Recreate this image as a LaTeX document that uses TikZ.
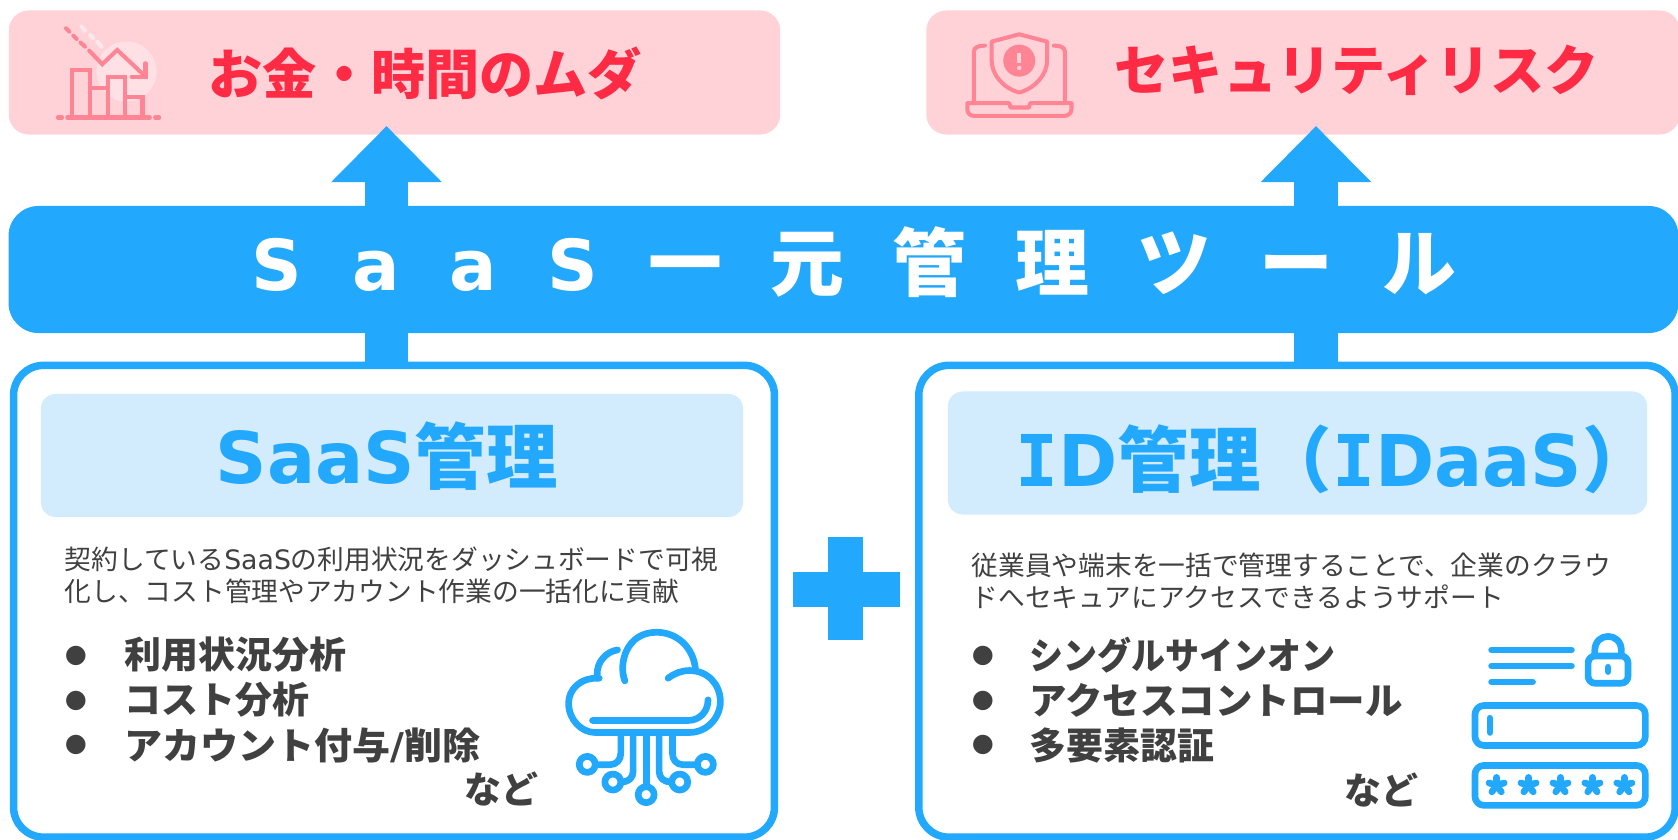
\documentclass[tikz,border=0pt]{standalone}
\usepackage{fontspec}
\usetikzlibrary{arrows.meta}
\newfontfamily\cjk{Noto Sans CJK JP}
\newfontfamily\lat{DejaVu Sans}
\newfontfamily\latmono{DejaVu Sans Mono}
\definecolor{saasblue}{HTML}{22A8FC}
\definecolor{paleblue}{HTML}{D3ECFD}
\definecolor{palepink}{HTML}{FFD2D8}
\definecolor{riskred}{HTML}{FF2B45}
\definecolor{iconpink}{HTML}{FF8494}
\definecolor{darktext}{HTML}{404040}
\begin{document}
\begin{tikzpicture}[x=0.01cm,y=-0.01cm]
    \tikzset{
      riskbox/.style={fill=palepink,rounded corners=0.2cm,minimum width=#1,minimum height=1.24cm,inner sep=0},
      risktext/.style={riskred,anchor=west,inner sep=0,font=\cjk\bfseries\fontsize{15.4}{18}\selectfont},
      mainbox/.style={draw=saasblue,fill=white,line width=0.075cm,rounded corners=0.3cm,minimum width=#1,minimum height=4.715cm,inner sep=0},
      headbox/.style={fill=paleblue,rounded corners=0.15cm,minimum width=#1,minimum height=1.23cm,inner sep=0},
      headtext/.style={saasblue,anchor=west,inner sep=0,font=\bfseries\fontsize{20.3}{24}\selectfont},
      bodytext/.style={darktext,anchor=west,align=left,inner sep=0,font=\fontsize{7.6}{9.1}\selectfont},
      itemtext/.style={darktext,anchor=west,inner sep=0,font=\cjk\bfseries\fontsize{10.5}{12}\selectfont},
      bulletmark/.style={darktext,inner sep=0,font=\lat\fontsize{7.2}{8}\selectfont},
      flow/.style={saasblue,line width=0.43cm,-{Triangle[width=1.07cm,length=0.56cm]}},
      iconline/.style={line width=1.9pt,line cap=round,line join=round,saasblue},
      pinkline/.style={line width=1.15pt,line cap=round,line join=miter,iconpink}
    }
    \useasboundingbox (0,0) rectangle (1678,840);

    %TOP BOXES
    \node[riskbox=7.71cm] (waste) at (394.5,72.5) {};
    \node[riskbox=7.53cm] (risk) at (1303,72.5) {};
    \node[risktext] (wastetext) at (208,73) {お金・時間のムダ};
    \node[risktext] (risktxt) at (1114,70) {セキュリティリスク};

    %LOWER BOXES
    \node[mainbox=7.605cm] (saasbox) at (394,601.25) {};
    \node[mainbox=7.56cm] (idbox) at (1297,601.25) {};
    \node[headbox=7.02cm] (saashead) at (392,455.5) {};
    \node[headbox=6.99cm] (idhead) at (1297.5,453) {};
    \node[headtext] (saastitle) at (215,456) {{\lat SaaS}{\cjk 管理}};
    \node[headtext] (idtitle) at (1015,459) {{\latmono I}{\lat D}{\cjk 管理（}{\latmono I}{\lat DaaS}{\cjk ）}};

    %ARROWS
    \coordinate (upleft) at (386.5,126);
    \coordinate (upright) at (1316,126);
    \draw[flow] (saasbox.north -| upleft) -- (upleft);
    \draw[flow] (idbox.north -| upright) -- (upright);

    %BAR
    \node[fill=saasblue,rounded corners=0.3cm,minimum width=16.69cm,minimum height=1.27cm,inner sep=0] (bar) at (843.5,269.5) {};
    \node[white,inner sep=0,font=\bfseries\fontsize{20}{24}\selectfont] (bartext) at (854,262)
      {\spaceskip=0.5cm {\lat S a a S} {\fontsize{21}{24}\selectfont\spaceskip=0.485cm\cjk 一 元 管 理 ツ ー ル}};

    %PLUS
    \fill[saasblue] (793,572) rectangle (900,607);
    \fill[saasblue] (828,537) rectangle (863,640);

    %TEXT LEFT
    \node[bodytext] (saasbody) at (64,575) {{\cjk 契約している}{\lat SaaS}{\cjk の利用状況をダッシュボードで可視}\\{\cjk 化し、コスト管理やアカウント作業の一括化に貢献}};
    \node[bulletmark] (b1) at (76,656) {●};
    \node[bulletmark] (b2) at (76,701) {●};
    \node[bulletmark] (b3) at (76,745) {●};
    \node[itemtext] (i1) at (124,655) {利用状況分析};
    \node[itemtext] (i2) at (124,700) {コスト分析};
    \node[itemtext] (i3) at (124,745) {\scalebox{1.03}[1]{アカウント付与{\lat /}削除}};
    \node[itemtext] (etc1) at (464,789) {など};

    %TEXT RIGHT
    \node[bodytext] (idbody) at (971,581) {{\cjk 従業員や端末を一括で管理することで、企業のクラウ}\\{\cjk ドへセキュアにアクセスできるようサポート}};
    \node[bulletmark] (b4) at (983,656) {●};
    \node[bulletmark] (b5) at (983,701) {●};
    \node[bulletmark] (b6) at (983,745) {●};
    \node[itemtext] (i4) at (1029,655) {\scalebox{0.92}[1]{シングルサインオン}};
    \node[itemtext] (i5) at (1029,700) {\scalebox{1.015}[1]{アクセスコントロール}};
    \node[itemtext] (i6) at (1029,745) {多要素認証};
    \node[itemtext] (etc2) at (1344,790) {など};

    %CLOUD
    \begin{scope}[shift={(520,600)},x=0.003333cm,y=-0.003333cm]
      \draw[iconline] (238,235) .. controls (180,232) and (146,270) .. (146,310) .. controls (146,360) and (185,398) .. (225,398) -- (510,398) .. controls (560,398) and (602,355) .. (602,305) .. controls (602,255) and (565,212) .. (510,212) .. controls (485,212) and (465,220) .. (445,235);
      \draw[iconline] (315,243) .. controls (295,190) and (320,97) .. (410,97) .. controls (475,97) and (520,145) .. (527,205);
      \draw[iconline] (232,225) .. controls (230,185) and (260,155) .. (293,150);
      \draw[iconline] (218,362) -- (505,362) .. controls (540,362) and (565,335) .. (565,300);
      \draw[iconline] (303,400) -- (303,460) .. controls (303,480) and (290,495) .. (270,495) -- (235,495);
      \draw[iconline] (340,400) -- (340,515) .. controls (340,535) and (325,547) .. (305,547);
      \draw[iconline] (380,400) -- (380,555);
      \draw[iconline] (418,400) -- (418,515) .. controls (418,535) and (433,547) .. (453,547);
      \draw[iconline] (458,400) -- (458,460) .. controls (458,480) and (470,495) .. (490,495) -- (525,495);
      \foreach \cx/\cy in {202/494,279/547,379/585,480/547,557/494}
        \draw[iconline] (\cx,\cy) circle[radius=0.08cm];
    \end{scope}

    %LOGIN
    \begin{scope}[shift={(1440,620)},x=0.003333cm,y=-0.003333cm]
      \draw[iconline] (155,90) -- (395,90);
      \draw[iconline] (155,138) -- (395,138);
      \draw[iconline] (155,186) -- (278,186);
      \draw[iconline,rounded corners=0.07cm] (445,108) rectangle (565,190);
      \draw[iconline] (465,105) -- (465,92) .. controls (465,35) and (545,35) .. (545,92) -- (545,105);
      \draw[iconline] (505,142) -- (505,155);
      \draw[iconline,rounded corners=0.09cm] (105,257) rectangle (617,377);
      \draw[iconline] (150,295) -- (150,338);
      \draw[iconline,rounded corners=0.09cm] (105,437) rectangle (617,557);
      \foreach \sx in {170,266,362,458,554}
        \foreach \ang in {90,162,234,306,18}
          \draw[iconline] (\sx,497) -- ++(\ang:-24);
    \end{scope}

    %CHART
    \begin{scope}[shift={(40,20)},x=0.003333cm,y=-0.003333cm]
      \fill[white,opacity=0.35] (260,155) circle[radius=0.3cm];
      \draw[pinkline] (82,293) -- (330,293);
      \draw[pinkline] (54,293) -- (66,293);
      \draw[pinkline] (346,293) -- (358,293);
      \draw[pinkline] (97,293) -- (97,150) -- (150,150) -- (150,293);
      \draw[pinkline] (150,203) -- (205,203);
      \draw[pinkline] (205,293) -- (205,172) -- (255,172) -- (255,293);
      \draw[pinkline] (255,232) -- (308,232) -- (308,293);
      \draw[pinkline] (148,92) -- (187,133) -- (232,90) -- (317,170);
      \draw[pinkline] (317,130) -- (317,170) -- (275,170);
      \draw[pinkline] (78,25) -- (88,35);
      \draw[pinkline] (100,47) -- (110,57);
      \draw[pinkline] (122,68) -- (135,80);
      \draw[pinkline,white,opacity=0.5] (125,20) -- (135,32);
      \draw[pinkline,white,opacity=0.5] (150,45) -- (160,55);
      \draw[pinkline,white,opacity=0.5] (172,65) -- (185,80);
    \end{scope}

    %LAPTOP
    \begin{scope}[shift={(950,20)},x=0.003333cm,y=-0.003333cm]
      \draw[pinkline] (72,245) -- (72,95) .. controls (72,82) and (85,77) .. (105,77);
      \draw[pinkline] (345,245) -- (345,95) .. controls (345,82) and (332,77) .. (312,77);
      \draw[pinkline,line join=round] (52,250) -- (178,250) -- (182,263) -- (237,263) -- (241,250) -- (365,250) -- (365,268) .. controls (365,280) and (355,288) .. (345,288) -- (72,288) .. controls (60,288) and (52,280) .. (52,268) -- cycle;
      \draw[pinkline,line join=round] (125,65) -- (208,43) -- (292,65) -- (292,120) .. controls (292,165) and (255,205) .. (208,218) .. controls (160,205) and (125,165) .. (125,120) -- cycle;
      \fill[iconpink] (208,122) circle[radius=0.16cm];
      \draw[palepink,line width=1.1pt] (208,100) -- (208,130);
      \fill[palepink] (208,144) circle[radius=0.022cm];
    \end{scope}
\end{tikzpicture}
\end{document}
